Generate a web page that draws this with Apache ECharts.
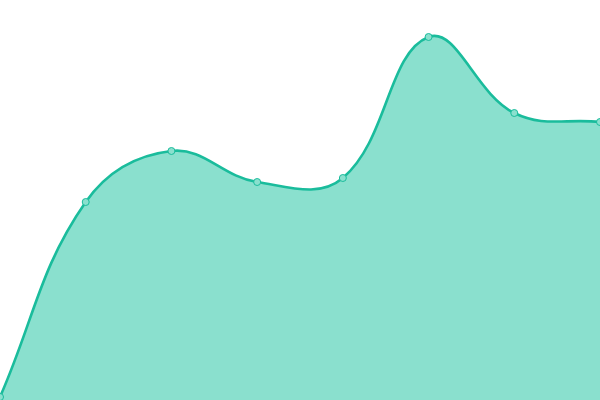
<!DOCTYPE html>
<html><head><meta charset="utf-8">
<script src="https://cdn.jsdelivr.net/npm/echarts@6/dist/echarts.min.js"></script>
<style>html,body{margin:0;padding:0;background:#fff}#c{width:600px;height:400px}</style>
</head><body><div id="c"></div>
<script>
var categories = ['1','2','3','4','5','6','7','8'];
var values = [3, 198, 249, 218, 222, 363, 287, 278];
var TENSION = 0.4;

function splinePath(pts, t) {
  var n = pts.length, cps = [];
  for (var i = 0; i < n; i++) {
    var prev = pts[i === 0 ? i : i - 1], cur = pts[i], next = pts[i === n - 1 ? i : i + 1];
    var d01 = Math.hypot(cur[0] - prev[0], cur[1] - prev[1]);
    var d12 = Math.hypot(next[0] - cur[0], next[1] - cur[1]);
    var s01 = d01 / (d01 + d12) || 0, s12 = d12 / (d01 + d12) || 0;
    var fa = t * s01, fb = t * s12;
    cps.push({
      p: [cur[0] - fa * (next[0] - prev[0]), cur[1] - fa * (next[1] - prev[1])],
      n: [cur[0] + fb * (next[0] - prev[0]), cur[1] + fb * (next[1] - prev[1])]
    });
  }
  var d = 'M' + pts[0][0] + ' ' + pts[0][1];
  for (var j = 1; j < n; j++) {
    var a = cps[j - 1].n, b = cps[j].p;
    d += ' C' + a[0] + ' ' + a[1] + ' ' + b[0] + ' ' + b[1] + ' ' + pts[j][0] + ' ' + pts[j][1];
  }
  return d;
}

var chart = echarts.init(document.getElementById('c'));
chart.setOption({
  animation: false,
  grid: {left: 0, right: 0, top: 0, bottom: 0},
  xAxis: {type: 'category', data: categories, boundaryGap: false, show: false},
  yAxis: {type: 'value', min: 0, max: 400, show: false},
  series: [{
    type: 'custom',
    data: values.map(function (v, i) { return [i, v]; }),
    encode: {x: 0, y: 1},
    renderItem: function (params, api) {
      if (params.dataIndex !== 0) return null;
      var pts = values.map(function (v, i) { return api.coord([i, v]); });
      var base = api.coord([0, 0])[1];
      var line = splinePath(pts, TENSION);
      var area = line + ' L' + pts[pts.length - 1][0] + ' ' + base + ' L' + pts[0][0] + ' ' + base + ' Z';
      return {
        type: 'group',
        children: [
          {type: 'path', shape: {pathData: area}, style: {fill: '#8ae0ce', stroke: null}},
          {type: 'path', shape: {pathData: line}, style: {fill: null, stroke: '#1abc9c', lineWidth: 2.6}}
        ]
      };
    },
    z: 1
  }, {
    type: 'line',
    data: values,
    symbol: 'circle',
    symbolSize: 7,
    lineStyle: {opacity: 0, width: 0},
    itemStyle: {color: '#8ae0ce', borderColor: '#1abc9c', borderWidth: 1},
    z: 3
  }]
});
</script></body></html>
